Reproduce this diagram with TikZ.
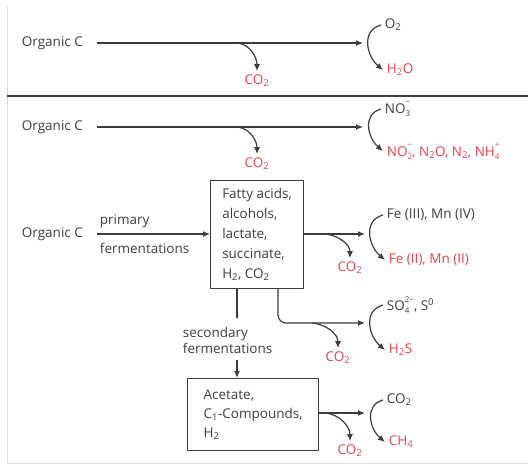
\documentclass[tikz,border=0pt]{standalone}
\usepackage{fontspec}
\setmainfont{Open Sans}
\usetikzlibrary{arrows.meta}
\definecolor{redox}{RGB}{228,66,78}
\definecolor{ink}{RGB}{60,60,60}
\newcommand{\subsup}[2]{\rlap{\raisebox{-0.4ex}{\fontsize{8}{8}\selectfont#1}}\raisebox{1.2ex}{\fontsize{8}{8}\selectfont#2}}

\begin{document}
\begin{tikzpicture}[x=1pt,y=-1pt,line join=round,line width=1.2pt,>={Latex[length=7pt,width=6pt]},
  every node/.style={font=\fontsize{13.5}{16}\selectfont,text=ink},
  arr/.style={->,draw=ink},
  src/.style={anchor=west},
  ox/.style={anchor=west},
  reduced/.style={anchor=west,text=redox},
  gas/.style={text=redox},
  pool/.style={draw=ink,line width=1.2pt,align=left,anchor=north west,inner xsep=6pt,
    font=\fontsize{13.5}{20}\selectfont}]
\useasboundingbox (0,0) rectangle (528,470);
% frame
\draw[gray!25,line width=0.8pt] (7,6) -- (7,463) -- (528,463);
\draw[ink,line width=1.3pt] (7,96) -- (528,96);

% aerobic respiration
\node[src] (org1) at (18,43) {Organic C};
\coordinate (e1) at (363,43);
\coordinate (b1) at (237,43);
\node[gas] (co1) at (257,81) {CO\textsubscript{2}};
\node[ox] (o2) at (381,25) {O\textsubscript{2}};
\node[reduced] (h2o) at (383,70) {H\textsubscript{2}O};
\draw[arr] ([xshift=10pt]org1.east) -- (e1);
\draw[arr] (b1) to[out=-5,in=90] (co1.north);
\draw[arr] (o2.west) to[out=195,in=140,looseness=1.2] (h2o.west);

% denitrification
\node[src] (org2) at (18,127) {Organic C};
\coordinate (e2) at (363,127);
\coordinate (b2) at (237,127);
\node[gas] (co2) at (257,164) {CO\textsubscript{2}};
\node[ox] (no3) at (381,109) {NO\subsup{3}{−}};
\node[reduced] (nox) at (383,151) {NO\subsup{2}{−}, N\textsubscript{2}O, N\textsubscript{2}, NH\subsup{4}{+}};
\draw[arr] ([xshift=10pt]org2.east) -- (e2);
\draw[arr] (b2) to[out=-5,in=90] (co2.north);
\draw[arr] (no3.west) to[out=195,in=140,looseness=1.2] (nox.west);

% fermentation
\node[src] (org3) at (18,234) {Organic C};
\node[pool,minimum width=93pt,minimum height=108pt] (box1) at (210,180)
  {Fatty acids,\\alcohols,\\lactate,\\succinate,\\H\textsubscript{2}, CO\textsubscript{2}};
\node[anchor=west] (prim) at (96,221) {primary};
\node[anchor=west] (ferm) at (96,248) {fermentations};
\draw[arr] ([xshift=10pt]org3.east) -- (org3.east -| box1.west);

% iron and manganese
\coordinate (e3) at (365,234);
\coordinate (b3) at (325,234);
\node[gas] (co3) at (350,268) {CO\textsubscript{2}};
\node[ox] (fe3) at (383,215) {Fe (III), Mn (IV)};
\node[reduced] (fe2) at (385,260) {Fe (II), Mn (II)};
\draw[arr] (box1.east |- e3) -- (e3);
\draw[arr] (b3) to[out=-5,in=90] (co3.north);
\draw[arr] (fe3.west) to[out=195,in=140,looseness=1.2] (fe2.west);

% sulfate
\coordinate (d2) at (278,323);
\coordinate (e4) at (365,323);
\coordinate (b4) at (312,323);
\node[gas] (co4) at (338,358) {CO\textsubscript{2}};
\node[ox] (so4) at (383,305) {SO\subsup{4}{2−}, S\textsuperscript{0}};
\node[reduced] (h2s) at (385,350) {H\textsubscript{2}S};
\draw[arr,rounded corners=8pt] (box1.south -| d2) |- (e4);
\draw[arr] (b4) to[out=-5,in=90] (co4.north);
\draw[arr] (so4.west) to[out=195,in=140,looseness=1.2] (h2s.west);

% methanogenesis
\coordinate (d1) at (237,318);
\coordinate (s1) at (237,360);
\node[anchor=west,align=left,font=\fontsize{13.5}{16}\selectfont] (sec) at (179,340)
  {secondary\\fermentations};
\node[pool,minimum width=131pt,minimum height=72pt,inner xsep=8pt,
  font=\fontsize{13.5}{19}\selectfont] (box2) at (187,378)
  {Acetate,\\C\textsubscript{1}-Compounds,\\H\textsubscript{2}};
\draw[ink] (box1.south -| d1) -- (d1);
\draw[arr] (s1) -- (s1 |- box2.north);
\coordinate (e5) at (365,413);
\coordinate (b5) at (325,413);
\node[gas] (co5) at (350,451) {CO\textsubscript{2}};
\node[ox] (co2b) at (383,400) {CO\textsubscript{2}};
\node[reduced] (ch4) at (385,442) {CH\textsubscript{4}};
\draw[arr] (box2.east |- e5) -- (e5);
\draw[arr] (b5) to[out=-5,in=90] (co5.north);
\draw[arr] (co2b.west) to[out=195,in=140,looseness=1.2] (ch4.west);
\end{tikzpicture}
\end{document}
